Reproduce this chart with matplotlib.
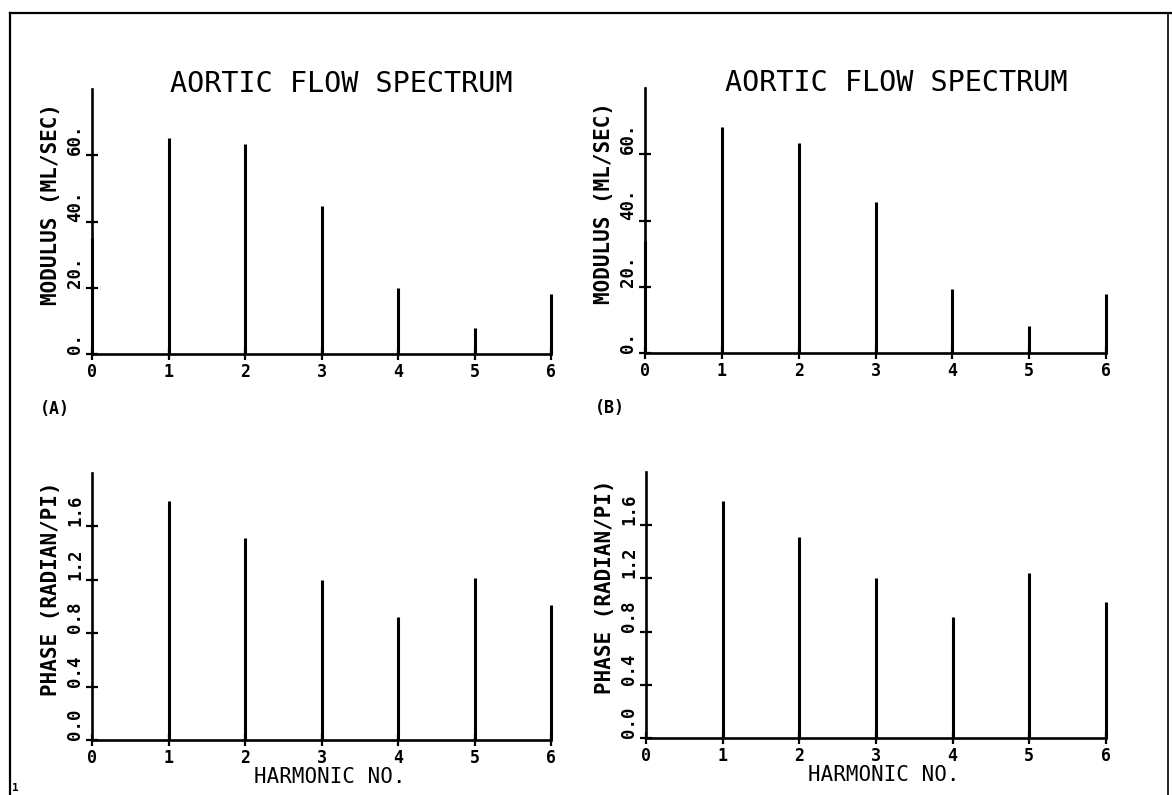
import numpy as np
import matplotlib.pyplot as plt
from matplotlib.lines import Line2D

# harmonic numbers and spectra
harmonic = [0, 1, 2, 3, 4, 5, 6]

modulus_a = [35.0, 65.2, 63.3, 44.6, 19.8, 7.9, 18.1]
modulus_b = [33.8, 68.1, 63.3, 45.7, 19.2, 8.3, 17.9]
phase_a = [0.0, 1.79, 1.51, 1.20, 0.92, 1.21, 1.01]
phase_b = [0.0, 1.78, 1.51, 1.20, 0.91, 1.24, 1.02]

mod_ticks = [0, 20, 40, 60]
mod_labels = ['0.', '20.', '40.', '60.']
phase_ticks = [0.0, 0.4, 0.8, 1.2, 1.6]
phase_labels = ['0.0', '0.4', '0.8', '1.2', '1.6']

plt.rcParams['font.family'] = 'DejaVu Sans Mono'

W, H = 1172, 795
fig = plt.figure(figsize=(W / 100, H / 100), dpi=100)


def px_axes(left, top, right, bottom):
    return fig.add_axes([left / W, 1 - bottom / H, (right - left) / W, (bottom - top) / H])


def style(ax, values, ymax, ticks, labels, ylabel, title=None, xlabel=None):
    ax.vlines(harmonic, 0, values, color='black', lw=2.2, clip_on=False)
    ax.set_xlim(0, 6)
    ax.set_ylim(0, ymax)
    for s in ['top', 'right']:
        ax.spines[s].set_visible(False)
    for s in ['left', 'bottom']:
        ax.spines[s].set_linewidth(1.9)
    ax.set_xticks(harmonic)
    ax.set_xticklabels([str(h) for h in harmonic], fontsize=12, fontweight='bold')
    ax.set_yticks(ticks)
    ax.set_yticklabels(labels, fontsize=12.5, fontweight='bold', rotation=90)
    for t in ax.get_yticklabels():
        t.set_va('bottom')
    ax.tick_params(axis='both', direction='inout', length=9, width=1.6)
    ax.tick_params(axis='y', pad=1)
    ax.tick_params(axis='x', pad=2)
    ax.set_ylabel(ylabel, fontsize=15, fontweight='bold')
    ax.yaxis.set_label_coords(-0.068, 0.567)
    if title:
        ax.set_title(title, fontsize=20.5, x=0.544, y=1.0, pad=-2)
    if xlabel:
        ax.set_xlabel(xlabel, fontsize=15)
        ax.xaxis.set_label_coords(0.517, -0.1)


ax1 = px_axes(92, 89, 551, 354)
style(ax1, modulus_a, 80, mod_ticks, mod_labels, 'MODULUS (ML/SEC)', title='AORTIC FLOW SPECTRUM')

ax2 = px_axes(645, 88, 1106, 353)
style(ax2, modulus_b, 80, mod_ticks, mod_labels, 'MODULUS (ML/SEC)', title='AORTIC FLOW SPECTRUM')

ax3 = px_axes(92, 473, 551, 740)
style(ax3, phase_a, 2.0, phase_ticks, phase_labels, 'PHASE (RADIAN/PI)', xlabel='HARMONIC NO.')

ax4 = px_axes(646, 472, 1106, 738)
style(ax4, phase_b, 2.0, phase_ticks, phase_labels, 'PHASE (RADIAN/PI)', xlabel='HARMONIC NO.')

fig.text(40 / W, 1 - 418 / H, '(A)', fontsize=12, fontweight='bold', va='bottom')
fig.text(595 / W, 1 - 417 / H, '(B)', fontsize=12, fontweight='bold', va='bottom')
fig.text(12 / W, 1 - 793 / H, '1', fontsize=8, fontweight='bold', va='bottom')

# page frame
fig.add_artist(Line2D([10 / W, 1.0], [1 - 13 / H, 1 - 13 / H], color='black', lw=1.6))
fig.add_artist(Line2D([10 / W, 10 / W], [0.0, 1 - 13 / H], color='black', lw=1.6))
fig.add_artist(Line2D([1168 / W, 1168 / W], [0.0, 1 - 13 / H], color='black', lw=1.2))

plt.savefig('out.png', dpi=100)
